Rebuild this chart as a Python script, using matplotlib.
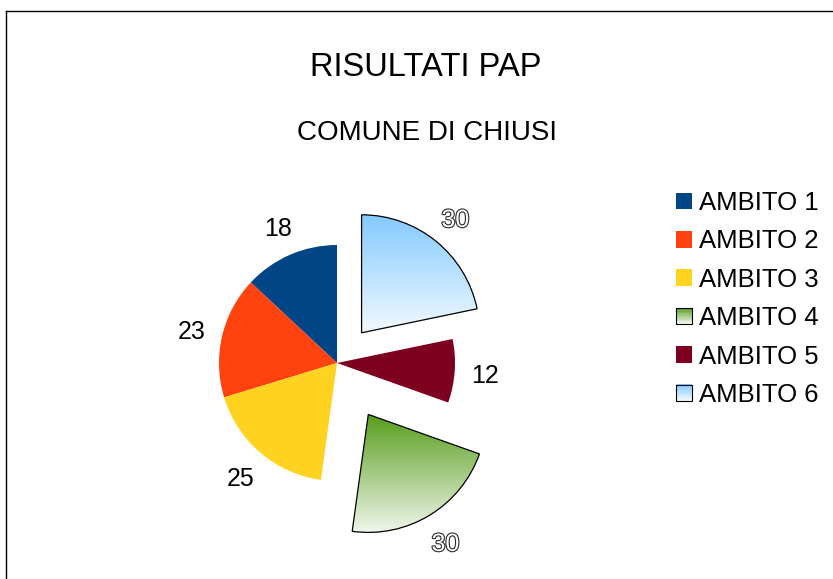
import numpy as np
import matplotlib.pyplot as plt
import matplotlib.patheffects as pe
from matplotlib.colors import to_rgb
from matplotlib.lines import Line2D
from matplotlib.patches import Rectangle
from matplotlib.legend_handler import HandlerPatch

plt.rcParams['font.family'] = ['Liberation Sans', 'DejaVu Sans']

# data
labels = ['AMBITO 1', 'AMBITO 2', 'AMBITO 3', 'AMBITO 4', 'AMBITO 5', 'AMBITO 6']
values = [18, 23, 25, 30, 12, 30]
colors = ['#004586', '#ff420e', '#ffd320', '#579d1c', '#7e0021', '#83caff']
# slices drawn with a vertical gradient (top colour -> this colour)
fade_to = [None, None, None, '#f3f8f0', None, '#f2f9ff']
explode = [0, 0, 0, 0.51, 0, 0.33]

W, H = 833, 579
cx, cy, R = 337, 363, 118  # pie centre and radius in pixels


def gradient(top, bottom, n=256):
    t = np.linspace(0, 1, n)[:, None]
    return (1 - t) * np.array(to_rgb(top)) + t * np.array(to_rgb(bottom))


class GradientHandler(HandlerPatch):
    def __init__(self, top, bottom):
        super().__init__()
        self.top, self.bottom = top, bottom

    def create_artists(self, legend, orig_handle, xdescent, ydescent,
                       width, height, fontsize, trans):
        arts = []
        n = 12
        cols = gradient(self.top, self.bottom, n)
        for k in range(n):
            y = -ydescent + height * (1 - (k + 1) / n)
            arts.append(Rectangle((-xdescent, y), width, height / n + 0.2,
                                  facecolor=cols[k], edgecolor='none',
                                  transform=trans))
        arts.append(Rectangle((-xdescent, -ydescent), width, height,
                              facecolor='none', edgecolor='black', lw=0.8,
                              transform=trans))
        return arts


fig = plt.figure(figsize=(W / 100, H / 100), dpi=100)
ax = fig.add_axes([0, 0, 1, 1])

wedges, texts = ax.pie(values, colors=colors, explode=explode, startangle=90,
                       counterclock=True, radius=1, labels=[str(v) for v in values],
                       labeldistance=1.26, textprops={'fontsize': 18})

for i, w in enumerate(wedges):
    texts[i].set_ha('center')
    texts[i].set_va('center_baseline')
    if fade_to[i] is None:
        continue
    w.set_facecolor('none')
    w.set_edgecolor('black')
    w.set_linewidth(0.9)
    w.set_zorder(3)
    v = w.get_path().vertices
    im = ax.imshow(gradient(colors[i], fade_to[i])[:, None, :],
                   extent=(v[:, 0].min(), v[:, 0].max(), v[:, 1].min(), v[:, 1].max()),
                   origin='upper', aspect='auto', zorder=2, interpolation='bilinear')
    im.set_clip_path(w)
    texts[i].set_color('white')
    texts[i].set_path_effects([pe.withStroke(linewidth=1.6, foreground='#2a2a2a')])

ax.set_xlim(-cx / R, (W - cx) / R)
ax.set_ylim(-(H - cy) / R, cy / R)
ax.set_aspect('auto')
ax.axis('off')

# titles
fig.text(426 / W, 1 - 76 / H, 'RISULTATI PAP', ha='center', va='baseline', fontsize=23.5)
fig.text(427 / W, 1 - 140 / H, 'COMUNE DI CHIUSI', ha='center', va='baseline', fontsize=20)

# legend
handles = [Rectangle((0, 0), 1, 1, facecolor=c, edgecolor='none') for c in colors]
hmap = {handles[i]: GradientHandler(colors[i], fade_to[i])
        for i in range(len(colors)) if fade_to[i] is not None}
fig.legend(handles, labels, handler_map=hmap, loc='upper left',
           bbox_to_anchor=(676 / W, 1 - 191 / H), frameon=False, fontsize=18.5,
           handlelength=0.62, handleheight=0.62, handletextpad=0.28,
           labelspacing=0.56, borderpad=0, borderaxespad=0)

# frame
fig.add_artist(Line2D([6 / W, 6 / W], [0, 1 - 11 / H], color='black', lw=1,
                      transform=fig.transFigure))
fig.add_artist(Line2D([6 / W, 1], [1 - 11 / H, 1 - 11 / H], color='black', lw=1,
                      transform=fig.transFigure))

fig.savefig('out.png', dpi=100)
